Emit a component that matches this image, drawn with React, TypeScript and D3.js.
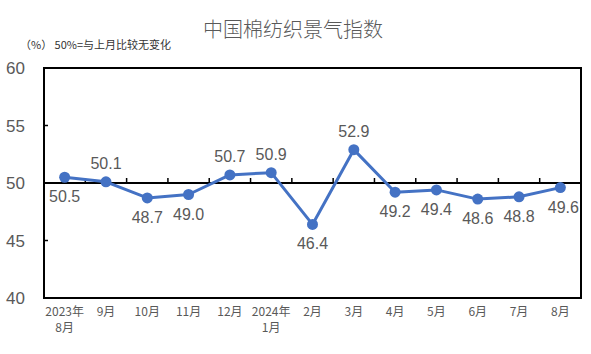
import { useEffect, useRef } from 'react';
import * as d3 from 'd3';

const months = ['2023年\n8月', '9月', '10月', '11月', '12月', '2024年\n1月', '2月', '3月', '4月', '5月', '6月', '7月', '8月'];
const values = [50.5, 50.1, 48.7, 49.0, 50.7, 50.9, 46.4, 52.9, 49.2, 49.4, 48.6, 48.8, 49.6];
// label above (1) or below (-1) the point
const labelSide = [-1, 1, -1, -1, 1, 1, -1, 1, -1, -1, -1, -1, -1];
const yTicks = [40, 45, 50, 55, 60];

export default function App() {
  const svgRef = useRef<SVGSVGElement>(null);

  useEffect(() => {
    if (!svgRef.current) return;
    const svg = d3.select(svgRef.current);
    svg.selectAll('*').remove();

    const left = 44, right = 581, top = 68, bottom = 298;
    const font = '"Noto Sans CJK SC", sans-serif';
    const numFont = '"Liberation Sans", Arial, sans-serif';
    const gray = '#595959';

    const x = d3.scaleBand().domain(months).range([left, right]).paddingInner(0).paddingOuter(0);
    const y = d3.scaleLinear().domain([40, 60]).range([bottom, top]);
    const cx = (i: number) => (x(months[i]) as number) + x.bandwidth() / 2;

    svg.append('text')
      .attr('x', 293).attr('y', 37)
      .attr('text-anchor', 'middle')
      .attr('font-family', font).attr('font-size', 20)
      .attr('font-weight', 300)
      .attr('fill', gray)
      .text('中国棉纺织景气指数');

    svg.append('text')
      .attr('x', 20).attr('y', 49)
      .attr('font-family', font).attr('font-size', 11)
      .attr('fill', '#333')
      .text('（%） 50%=与上月比较无变化');

    // frame
    svg.append('rect')
      .attr('x', left).attr('y', top)
      .attr('width', right - left).attr('height', bottom - top)
      .attr('fill', 'none').attr('stroke', '#000').attr('stroke-width', 2);

    // y ticks (inward)
    svg.selectAll('.ytick')
      .data(yTicks.filter(t => t !== 40 && t !== 60))
      .enter().append('line')
      .attr('x1', left).attr('x2', left + 4)
      .attr('y1', d => y(d)).attr('y2', d => y(d))
      .attr('stroke', '#000').attr('stroke-width', 1.5);

    svg.selectAll('.ylabel')
      .data(yTicks)
      .enter().append('text')
      .attr('x', 25).attr('y', d => y(d) + 6)
      .attr('text-anchor', 'end')
      .attr('font-family', numFont).attr('font-size', 17)
      .attr('fill', gray)
      .text(d => d);

    // 50 baseline with category ticks
    svg.append('line')
      .attr('x1', left).attr('x2', right)
      .attr('y1', y(50)).attr('y2', y(50))
      .attr('stroke', '#000').attr('stroke-width', 2);

    svg.selectAll('.xtick')
      .data(months.slice(1))
      .enter().append('line')
      .attr('x1', d => x(d) as number).attr('x2', d => x(d) as number)
      .attr('y1', y(50)).attr('y2', y(50) - 5)
      .attr('stroke', '#000').attr('stroke-width', 1.5);

    // x labels
    const xl = svg.selectAll('.xlabel')
      .data(months)
      .enter().append('text')
      .attr('text-anchor', 'middle')
      .attr('font-family', font).attr('font-size', 12)
      .attr('fill', gray);
    xl.each(function (d, i) {
      const lines = d.split('\n');
      const t = d3.select(this);
      lines.forEach((ln, j) => {
        t.append('tspan')
          .attr('x', cx(i))
          .attr('y', 316 + j * 16)
          .text(ln);
      });
    });

    const line = d3.line<number>()
      .x((_, i) => cx(i))
      .y(d => y(d));

    svg.append('path')
      .datum(values)
      .attr('d', line)
      .attr('fill', 'none')
      .attr('stroke', '#4472C4')
      .attr('stroke-width', 3)
      .attr('stroke-linejoin', 'round');

    svg.selectAll('.dot')
      .data(values)
      .enter().append('circle')
      .attr('cx', (_, i) => cx(i))
      .attr('cy', d => y(d))
      .attr('r', 5.5)
      .attr('fill', '#4472C4');

    svg.selectAll('.vlabel')
      .data(values)
      .enter().append('text')
      .attr('x', (_, i) => cx(i) + (i === values.length - 1 ? 3 : 0))
      .attr('y', (d, i) => y(d) + (labelSide[i] > 0 ? -13 : 25))
      .attr('text-anchor', 'middle')
      .attr('font-family', numFont).attr('font-size', 16)
      .attr('fill', gray)
      .text(d => d.toFixed(1));
  }, []);

  return (
    <svg ref={svgRef} width={591} height={354}
      style={{ position: 'absolute', left: 0, top: 0, background: '#fff' }} />
  );
}
